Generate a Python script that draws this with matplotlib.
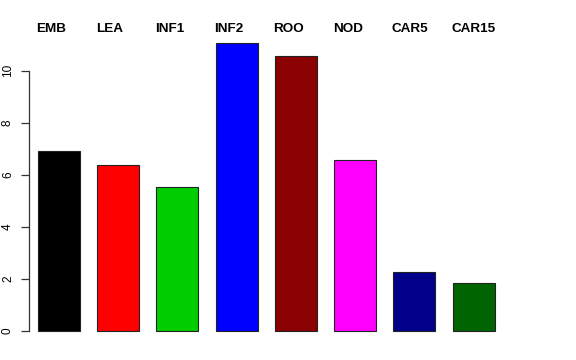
import numpy as np
import matplotlib
matplotlib.use("Agg")
import matplotlib.pyplot as plt

# tissue groups and bar heights
groups = ["EMB", "LEA", "INF1", "INF2", "ROO", "NOD", "CAR5", "CAR15"]
values = [6.92, 6.36, 5.52, 11.06, 10.55, 6.56, 2.28, 1.85]
colors = ["#000000", "#FF0000", "#00CD00", "#0000FF",
          "#8B0000", "#FF00FF", "#00008B", "#006400"]
yticks = [0, 2, 4, 6, 8, 10]

plt.rcParams["font.family"] = ["Liberation Sans", "DejaVu Sans"]

fig = plt.figure(figsize=(5.76, 3.6), dpi=100)
# axes spans pixels x 20..560, y 20..340
ax = fig.add_axes([20 / 576, 1 - 340 / 360, 540 / 576, 320 / 360])

pitch = 59.24   # px between bar centres
unit = 26.05    # px per y unit
x = np.arange(len(groups))
ax.bar(x, values, width=42 / pitch, color=colors,
       edgecolor="#222222", linewidth=0.8, zorder=2)

ax.set_xlim((20 - 59) / pitch, (560 - 59) / pitch)
ax.set_ylim((331 - 340) / unit, (331 - 20) / unit)

for s in ["top", "right", "bottom"]:
    ax.spines[s].set_visible(False)
ax.spines["left"].set_position(("data", (29 - 59) / pitch))
ax.spines["left"].set_bounds(0, 10)
ax.spines["left"].set_color("#333333")
ax.spines["left"].set_linewidth(0.9)
ax.set_xticks([])
ax.set_yticks(yticks)
ax.set_yticklabels([str(t) for t in yticks], rotation=90, va="center")
ax.tick_params(axis="y", length=5.8, width=0.9, color="#333333",
               labelsize=8.5, pad=5)

# group labels above the plot, left aligned on each bar
for xi, g in zip(x, groups):
    ax.text(xi - 21 / pitch - 1.5 / pitch, (331 - 29) / unit, g,
            ha="left", va="center", fontsize=9.7, fontweight="bold")

fig.savefig("out.png", dpi=100)
